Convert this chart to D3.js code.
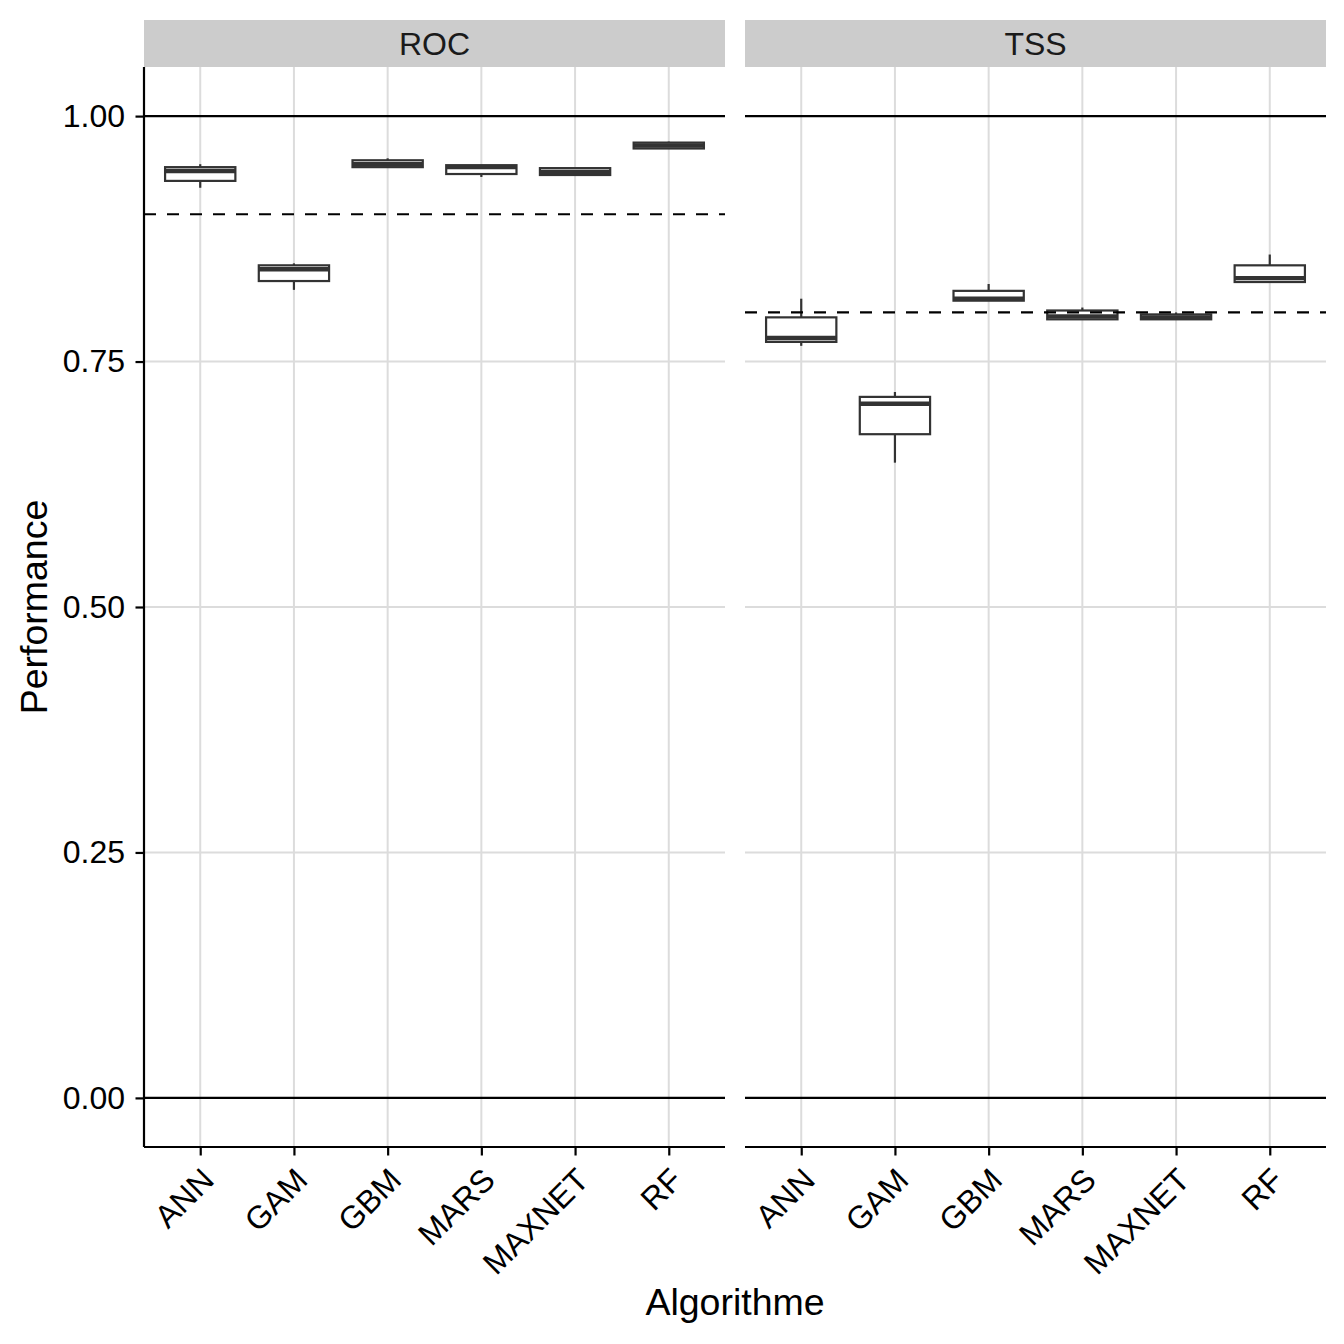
<!DOCTYPE html>
<html>
<head>
<meta charset="utf-8">
<script src="https://cdn.jsdelivr.net/npm/d3@7"></script>
<style>
  body { margin: 0; background: #fff; }
  text { font-family: "Liberation Sans", Arial, sans-serif; }
</style>
</head>
<body>
<div id="chart"></div>
<script>
// data
var categories = ["ANN", "GAM", "GBM", "MARS", "MAXNET", "RF"];
var metrics = ["ROC", "TSS"];
var yTicks = [0, 0.25, 0.5, 0.75, 1];
var yTickLabels = ["0.00", "0.25", "0.50", "0.75", "1.00"];
var thresholds = [0.9, 0.8];

// [lower whisker, Q1, median, Q3, upper whisker] per algorithm
var rocStats = [
  [0.927, 0.934, 0.944, 0.948, 0.951],
  [0.823, 0.832, 0.844, 0.848, 0.850],
  [0.948, 0.948, 0.951, 0.955, 0.957],
  [0.938, 0.941, 0.948, 0.950, 0.950],
  [0.940, 0.940, 0.943, 0.947, 0.947],
  [0.967, 0.967, 0.970, 0.973, 0.974]
];
var tssStats = [
  [0.766, 0.770, 0.774, 0.795, 0.814],
  [0.647, 0.676, 0.707, 0.714, 0.719],
  [0.812, 0.812, 0.814, 0.822, 0.829],
  [0.793, 0.793, 0.796, 0.802, 0.805],
  [0.793, 0.793, 0.795, 0.798, 0.800],
  [0.830, 0.831, 0.835, 0.848, 0.859]
];
var allStats = [rocStats, tssStats];

var svgWidth = 1344;
var svgHeight = 1344;

var panelTop = 67;
var panelBottom = 1147;
var panelLefts = [144, 745];
var panelWidth = 581;
var stripHeight = 47;

var svg = d3.select("#chart")
  .append("svg")
  .attr("width", svgWidth)
  .attr("height", svgHeight);

var yScale = d3.scaleLinear()
  .domain([-0.05, 1.05])
  .range([panelBottom, panelTop]);

var boxColor = "#333333";
var gridColor = "#dcdcdc";

metrics.forEach(function(metric, p) {
  var left = panelLefts[p];
  var stats = allStats[p];

  var xScale = d3.scalePoint()
    .domain(categories)
    .range([0, panelWidth])
    .padding(0.6);
  var step = xScale.step();
  var boxW = step * 0.75;

  var g = svg.append("g")
    .attr("transform", `translate(${left}, 0)`);

  // strip
  g.append("rect")
    .attr("x", 0)
    .attr("y", panelTop - stripHeight)
    .attr("width", panelWidth)
    .attr("height", stripHeight)
    .attr("fill", "#cccccc");

  g.append("text")
    .attr("x", panelWidth / 2)
    .attr("y", panelTop - stripHeight / 2)
    .attr("dy", "0.36em")
    .attr("text-anchor", "middle")
    .attr("font-size", 32)
    .attr("fill", "#1a1a1a")
    .text(metric);

  // grid
  g.selectAll(".hgrid")
    .data(yTicks)
    .enter()
    .append("line")
    .attr("x1", 0)
    .attr("x2", panelWidth)
    .attr("y1", d => yScale(d))
    .attr("y2", d => yScale(d))
    .attr("stroke", gridColor)
    .attr("stroke-width", 2);

  g.selectAll(".vgrid")
    .data(categories)
    .enter()
    .append("line")
    .attr("x1", d => xScale(d))
    .attr("x2", d => xScale(d))
    .attr("y1", panelTop)
    .attr("y2", panelBottom)
    .attr("stroke", gridColor)
    .attr("stroke-width", 2);

  // reference lines at 0 and 1
  g.selectAll(".hline")
    .data([0, 1])
    .enter()
    .append("line")
    .attr("x1", 0)
    .attr("x2", panelWidth)
    .attr("y1", d => yScale(d))
    .attr("y2", d => yScale(d))
    .attr("stroke", "#000")
    .attr("stroke-width", 2.2);

  // boxes
  var boxes = g.selectAll(".box")
    .data(stats)
    .enter()
    .append("g")
    .attr("transform", (d, i) => `translate(${xScale(categories[i])}, 0)`);

  boxes.append("line")
    .attr("x1", 0).attr("x2", 0)
    .attr("y1", d => yScale(d[4]))
    .attr("y2", d => yScale(d[3]))
    .attr("stroke", boxColor)
    .attr("stroke-width", 2.2);

  boxes.append("line")
    .attr("x1", 0).attr("x2", 0)
    .attr("y1", d => yScale(d[1]))
    .attr("y2", d => yScale(d[0]))
    .attr("stroke", boxColor)
    .attr("stroke-width", 2.2);

  boxes.append("rect")
    .attr("x", -boxW / 2)
    .attr("width", boxW)
    .attr("y", d => yScale(d[3]))
    .attr("height", d => yScale(d[1]) - yScale(d[3]))
    .attr("fill", "#fff")
    .attr("stroke", boxColor)
    .attr("stroke-width", 2.2);

  boxes.append("line")
    .attr("x1", -boxW / 2).attr("x2", boxW / 2)
    .attr("y1", d => yScale(d[2]))
    .attr("y2", d => yScale(d[2]))
    .attr("stroke", boxColor)
    .attr("stroke-width", 4.4);

  // threshold dashed line
  g.append("line")
    .attr("x1", 0)
    .attr("x2", panelWidth)
    .attr("y1", yScale(thresholds[p]))
    .attr("y2", yScale(thresholds[p]))
    .attr("stroke", "#000")
    .attr("stroke-width", 2.2)
    .attr("stroke-dasharray", "12,11");

  // x axis
  var xAxis = g.append("g")
    .attr("transform", `translate(0, ${panelBottom})`)
    .call(d3.axisBottom(xScale).tickSize(8.5).tickSizeOuter(0));
  xAxis.select(".domain").attr("stroke", "#000").attr("stroke-width", 2.2)
    .attr("d", `M0,0H${panelWidth}`);
  xAxis.selectAll(".tick line").attr("stroke", "#000").attr("stroke-width", 2.2);
  xAxis.selectAll(".tick text")
    .attr("font-size", 32)
    .attr("fill", "#000")
    .attr("font-family", "Liberation Sans, Arial, sans-serif")
    .attr("text-anchor", "end")
    .attr("dy", null)
    .attr("y", 0)
    .attr("transform", "translate(15, 35) rotate(-45)");

  // y axis only on first panel
  if (p === 0) {
    var yAxis = g.append("g")
      .call(d3.axisLeft(yScale).tickValues(yTicks)
        .tickFormat((d, i) => yTickLabels[i])
        .tickSize(8.5).tickSizeOuter(0));
    yAxis.select(".domain").attr("stroke", "#000").attr("stroke-width", 2.2)
      .attr("d", `M0,${panelTop}V${panelBottom}`);
    yAxis.selectAll(".tick line").attr("stroke", "#000").attr("stroke-width", 2.2);
    yAxis.selectAll(".tick text")
      .attr("font-size", 32)
      .attr("fill", "#000")
      .attr("font-family", "Liberation Sans, Arial, sans-serif")
      .attr("x", -19);
  }
});

// axis titles
svg.append("text")
  .attr("x", (panelLefts[0] + panelLefts[1] + panelWidth) / 2)
  .attr("y", 1315)
  .attr("text-anchor", "middle")
  .attr("font-size", 37.5)
  .attr("fill", "#000")
  .text("Algorithme");

svg.append("text")
  .attr("transform", `translate(47, ${(panelTop + panelBottom) / 2}) rotate(-90)`)
  .attr("text-anchor", "middle")
  .attr("font-size", 37.5)
  .attr("fill", "#000")
  .text("Performance");
</script>
</body>
</html>
